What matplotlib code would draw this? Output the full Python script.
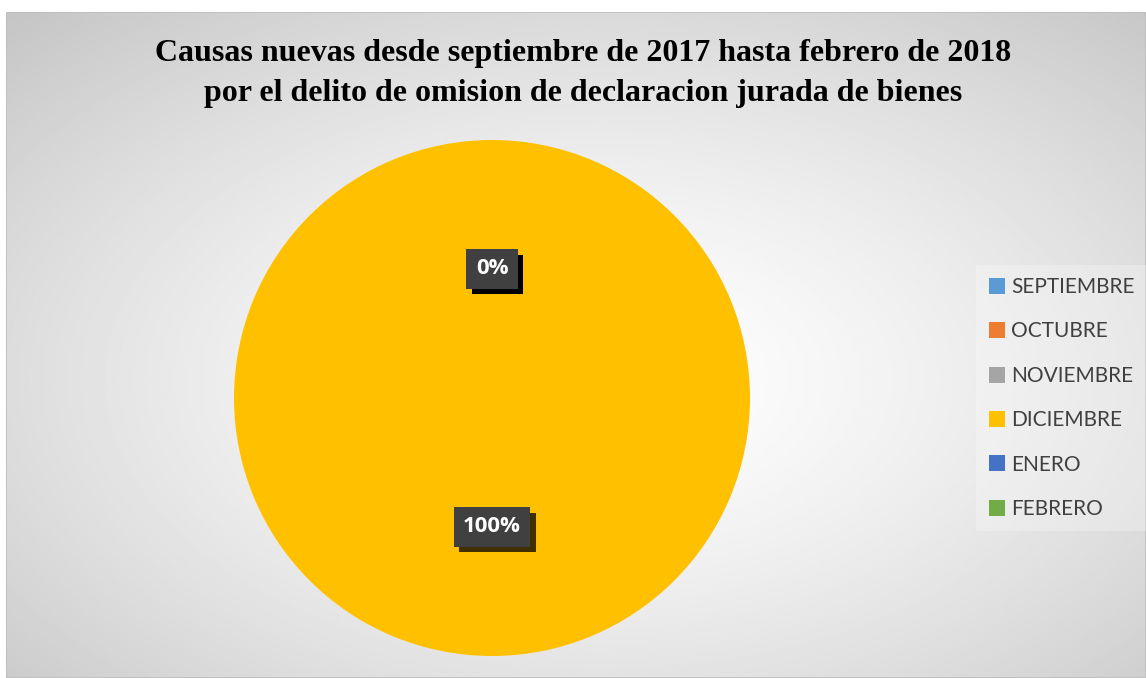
import numpy as np
import matplotlib
matplotlib.use('Agg')
import matplotlib.pyplot as plt
import matplotlib.patheffects as pe
from matplotlib.patches import Rectangle

# Data
months = ['SEPTIEMBRE', 'OCTUBRE', 'NOVIEMBRE', 'DICIEMBRE', 'ENERO', 'FEBRERO']
causas = [0, 0, 0, 1, 0, 0]
colors = ['#5B9BD5', '#ED7D31', '#A5A5A5', '#FFC000', '#4472C4', '#70AD47']
title_lines = ['Causas nuevas desde septiembre de 2017 hasta febrero de 2018',
               'por el delito de omision de declaracion jurada de bienes']

W, H = 1146, 678
fig = plt.figure(figsize=(W / 100, H / 100), dpi=100)
fig.patch.set_facecolor('white')

# Background: chart area with radial gradient
bg = fig.add_axes([6 / W, 0, (W - 6) / W, (H - 12) / H])
bg.set_axis_off()
ny, nx = 300, 500
yy, xx = np.mgrid[0:ny, 0:nx]
cx, cy = nx * 0.52, ny * 0.55
d = np.sqrt(((xx - cx) / nx) ** 2 + ((yy - cy) / ny) ** 2) / np.sqrt(0.52 ** 2 + 0.55 ** 2)
val = 1.0 - 0.23 * np.clip(d, 0, 1) ** 1.4
bg.imshow(val, cmap='gray', vmin=0, vmax=1, aspect='auto', extent=[0, 1, 0, 1],
          interpolation='bilinear')
bg.add_patch(Rectangle((0, 0), 1, 1, transform=bg.transAxes, fill=False,
                       edgecolor='#bdbdbd', linewidth=1.2))
bg.set_xlim(0, 1)
bg.set_ylim(0, 1)

# Title
fig.text(583 / W, 1 - 53 / H, title_lines[0], ha='center', va='center',
         fontsize=23, fontweight='bold', family='Liberation Serif', color='black')
fig.text(583 / W, 1 - 93 / H, title_lines[1], ha='center', va='center',
         fontsize=23, fontweight='bold', family='Liberation Serif', color='black')

# Pie
ax = fig.add_axes([234 / W, (H - 656) / H, 516 / W, 516 / H])
wedges, texts, autotexts = ax.pie(causas, colors=colors, startangle=90,
                                  counterclock=False, autopct='%1.0f%%',
                                  pctdistance=0.5, radius=1,
                                  wedgeprops=dict(linewidth=0))
ax.set_xlim(-1, 1)
ax.set_ylim(-1, 1)
ax.set_aspect('equal')
ax.set_axis_off()

for t in autotexts:
    t.set_color('white')
    t.set_fontsize(16)
    t.set_fontweight('bold')
    t.set_family('Open Sans')
    t.set_bbox(dict(boxstyle='square,pad=0.42', facecolor='#404040',
                    edgecolor='none'))
    bp = t.get_bbox_patch()
    bp.set_path_effects([pe.withSimplePatchShadow(offset=(4, -4),
                                                  shadow_rgbFace='black', alpha=0.75),
                         pe.Normal()])

# Legend
leg = fig.legend(wedges, months, loc='center left',
                 bbox_to_anchor=(976 / W, 1 - 398 / H),
                 frameon=True, handlelength=0.8, handleheight=0.8,
                 handletextpad=0.3, labelspacing=1.17, borderpad=0.6,
                 borderaxespad=0, prop={'family': 'Lato', 'size': 15})
leg.get_frame().set_facecolor('white')
leg.get_frame().set_alpha(0.25)
leg.get_frame().set_edgecolor('none')
leg.get_frame().set_boxstyle('square', pad=0)
for txt in leg.get_texts():
    txt.set_color('#404040')

fig.savefig('out.png', dpi=100)
